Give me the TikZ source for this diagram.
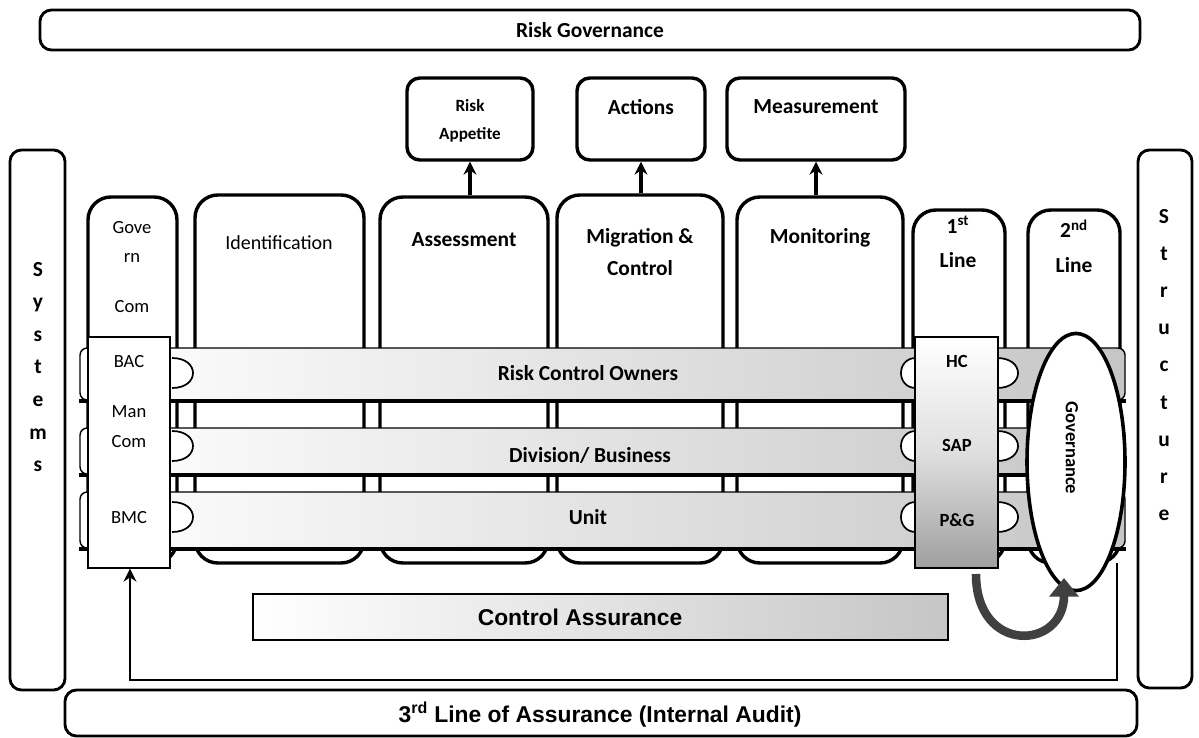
\documentclass[tikz,border=0pt]{standalone}
\usepackage{fontspec}
\setmainfont{Carlito}
\newfontfamily\arialfont{Liberation Sans}
\usetikzlibrary{fit,arrows.meta,shapes.geometric}

\begin{document}
\begin{tikzpicture}[x=0.7pt,y=-0.7pt,>={Stealth[length=9pt,width=9pt]},
  frame/.style={draw,line width=2pt,rounded corners=8pt,inner sep=0pt},
  topbox/.style={draw,line width=2.4pt,rounded corners=9pt,inner sep=0pt},
  colbox/.style={draw,line width=2.4pt,rounded corners=16pt,inner sep=0pt,fill=white},
  bar/.style={draw,line width=1pt,inner sep=0pt,left color=white,right color=gray!45},
  lbl/.style={font=\fontsize{15}{18}\selectfont\bfseries,align=center,inner sep=0pt},
  small/.style={font=\fontsize{13}{15}\selectfont,align=center,inner sep=0pt},
  heavy/.style={font=\arialfont\fontsize{16}{18}\selectfont\bfseries,inner sep=0pt}]
\useasboundingbox (0,0) rectangle (1199,737);

% frame
\node[frame,fit={(40,10)(1140,50)}] (rg) {};
\node[lbl] (rgt) at (590,30) {Risk Governance};
\node[frame,fit={(10,150)(65,690)}] (sys) {};
\node[lbl,font=\fontsize{15}{22.8}\selectfont\bfseries] (syst) at (38,367) {S\\y\\s\\t\\e\\m\\s};
\node[frame,fit={(1138,150)(1192,688)}] (str) {};
\node[lbl,font=\fontsize{15}{26}\selectfont\bfseries] (strt) at (1164,365) {S\\t\\r\\u\\c\\t\\u\\r\\e};
\node[frame,fit={(65,690)(1137,736)}] (audit) {};
\node[heavy] (auditt) at (600,715) {3\textsuperscript{rd} Line of Assurance (Internal Audit)};

% top boxes
\node[topbox,fit={(407,78)(533,160)}] (appetite) {};
\node[lbl,font=\fontsize{12}{20}\selectfont\bfseries] (appetitet) at (470,121) {Risk\\Appetite};
\node[topbox,fit={(577,78)(705,160)}] (actions) {};
\node[lbl] (actionst) at (641,107) {Actions};
\node[topbox,fit={(727,78)(905,160)}] (measure) {};
\node[lbl] (measuret) at (816,107) {Measurement};

% columns
\node[colbox,fit={(88,197)(177,563)}] (govcol) {};
\node[small] (govA) at (132,228) {Gove};
\node[small] (govB) at (132,258) {rn};
\node[small] (govC) at (132,307) {Com};
\node[colbox,fit={(195,195)(364,563)}] (ident) {};
\node[small,font=\fontsize{14}{16}\selectfont] (identt) at (279,243) {Identification};
\node[colbox,fit={(380,197)(548,563)}] (assess) {};
\node[lbl] (assesst) at (464,240) {Assessment};
\node[colbox,fit={(557,195)(723,563)}] (migr) {};
\node[lbl,font=\fontsize{15}{22}\selectfont\bfseries] (migrt) at (640,252) {Migration \&\\Control};
\node[colbox,fit={(737,197)(903,563)}] (monit) {};
\node[lbl] (monitt) at (820,238) {Monitoring};
\node[colbox,fit={(913,210)(1005,563)}] (first) {};
\node[lbl,font=\fontsize{15}{24}\selectfont\bfseries] (firstt) at (958,242) {1\textsuperscript{st}\\Line};
\node[colbox,fit={(1028,210)(1120,563)}] (second) {};
\node[lbl,font=\fontsize{15}{24}\selectfont\bfseries] (secondt) at (1074,246) {2\textsuperscript{nd}\\Line};

\draw[->,line width=2.5pt] (appetite.south |- assess.north) -- (appetite.south);
\draw[->,line width=2.5pt] (actions.south |- migr.north) -- (actions.south);
\draw[->,line width=2.5pt] (measure.south |- monit.north) -- (measure.south);

% bars
\node[bar,rounded corners=5pt,fit={(80,348)(1125,400)}] (rco) {};
\node[bar,rounded corners=5pt,fit={(80,428)(1125,474)}] (div) {};
\node[bar,rounded corners=5pt,fit={(80,492)(1125,548)}] (unit) {};
\draw[line width=2.5pt] (rco.south west) -- (rco.south east);
\draw[line width=2.5pt] (div.south west) -- (div.south east);
\draw[line width=2.5pt] (unit.south west) -- (unit.south east);
\node[lbl] (rcot) at (588,373) {Risk Control Owners};
\node[lbl] (divt) at (590,455) {Division/ Business};
\node[lbl] (unitt) at (588,517) {Unit};
\foreach \y in {373,446,517}{
  \draw[line width=1.2pt,fill=white] (172,\y-15) .. controls (200,\y-15) and (200,\y+15) .. (172,\y+15);
  \draw[line width=1.2pt,fill=white] (997,\y-15) .. controls (1025,\y-15) and (1025,\y+15) .. (997,\y+15);
  \draw[line width=1.2pt,fill=white] (916,\y-15) .. controls (896,\y-15) and (896,\y+15) .. (916,\y+15);
}

% overlays
\node[draw,line width=1pt,fill=white,inner sep=0pt,fit={(88,337)(170,568)}] (govlow) {};
\node[small] (bac) at (129,362) {BAC};
\node[small,font=\fontsize{13}{21}\selectfont] (mancom) at (129,427) {Man\\Com};
\node[small] (bmc) at (129,518) {BMC};
\node[draw,line width=1pt,top color=white,bottom color=gray!75,middle color=gray!25,inner sep=0pt,fit={(915,337)(998,568)}] (firstlow) {};
\node[small,font=\fontsize{13}{15}\selectfont\bfseries] (hc) at (957,361) {HC};
\node[small,font=\fontsize{13}{15}\selectfont\bfseries] (sap) at (957,445) {SAP};
\node[small,font=\fontsize{13}{15}\selectfont\bfseries] (pg) at (957,520) {P\&G};
\node[draw,ellipse,line width=2.5pt,fill=white,minimum width=68.6pt,minimum height=180pt,inner sep=0pt] (gov) at (1076,462) {};
\node[lbl,font=\fontsize{13}{15}\selectfont\bfseries,rotate=-90] (govt) at (1072,448) {Governance};

% control assurance
\node[draw,line width=1.5pt,left color=white,right color=gray!45,inner sep=0pt,fit={(253,594)(948,640)}] (ca) {};
\node[heavy] (cat) at (580,617) {Control Assurance};

\coordinate (caR) at (1117,563);
\coordinate (caL) at (130,680);
\draw[->,line width=1.8pt] (caR) |- (caL) -- (caL |- govlow.south);

\coordinate (ua1) at (976,574);
\coordinate (ua2) at (1064,578);
\draw[line width=6pt,black!75,-{Triangle[length=13pt,width=20pt]}] (ua1) .. controls (976,655) and (1064,650) .. (ua2);
\end{tikzpicture}
\end{document}
